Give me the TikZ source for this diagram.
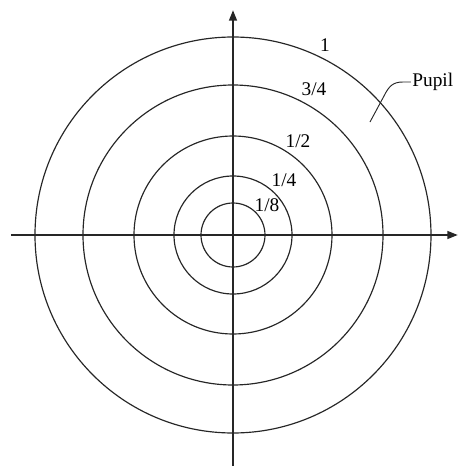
\documentclass[tikz,border=0pt]{standalone}
\usepackage{fontspec}
\setmainfont{Liberation Serif}
\usetikzlibrary{arrows.meta,positioning}
\tikzset{
  ring/.style={draw=black!85, line width=1pt},
  axis/.style={draw=black!85, line width=2pt, -{Triangle[length=3.2mm,width=2.3mm]}},
  lbl/.style={font=\fontsize{16.5}{19}\selectfont, inner sep=1pt},
  lead/.style={draw=black!85, line width=0.8pt},
}
\begin{document}
\begin{tikzpicture}[x=0.03cm,y=0.03cm]
\useasboundingbox (-233,-231) rectangle (225,235);
% rings
\foreach \r in {32,59,99,150,198} \draw[ring] (0,0) circle (\r);
% axes
\coordinate (xl) at (-222,0);
\coordinate (xr) at (225,0);
\coordinate (yb) at (0,-231);
\coordinate (yt) at (0,225);
\draw[axis] (xl) -- (xr);
\draw[axis] (yb) -- (yt);
% labels
\node[lbl] (one) at (92,190) {1};
\node[lbl] (tq) at (81,146) {3/4};
\node[lbl] (half) at (65,94) {1/2};
\node[lbl] (qt) at (51,55) {1/4};
\node[lbl] (eig) at (34,30) {1/8};
\node[lbl, anchor=west] (pupil) at (178,153) {Pupil};
\coordinate (pt) at (137,113);
\draw[lead] (pt) -- (151,139) .. controls (156,149) and (160,153) .. (170,153) -- (pupil.west);
\end{tikzpicture}
\end{document}
